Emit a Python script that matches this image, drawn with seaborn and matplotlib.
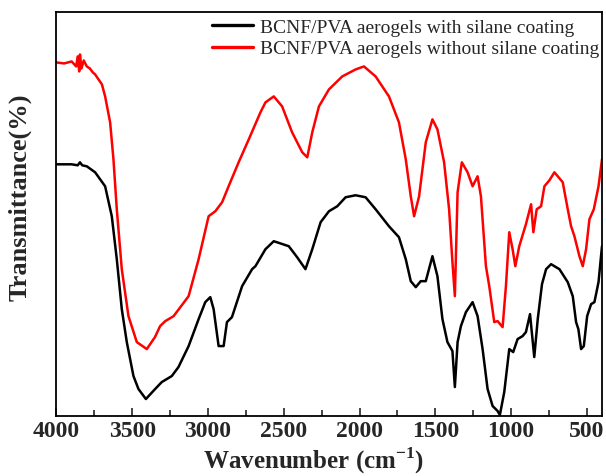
import numpy as np
import pandas as pd
import matplotlib
matplotlib.use("Agg")
import matplotlib.pyplot as plt
import seaborn as sns

# Wavenumber (cm-1) and transmittance (arbitrary units)
red_wn = [4000, 3950, 3900, 3870, 3860, 3850, 3845, 3835, 3820, 3800, 3780, 3760, 3745, 3700,
          3679, 3646, 3624, 3602, 3569, 3525, 3470, 3404, 3350, 3316, 3282, 3227, 3128, 3062,
          2996, 2952, 2907, 2864, 2798, 2731, 2654, 2621, 2566, 2511, 2445, 2378, 2345, 2312,
          2268, 2202, 2114, 2026, 1971, 1894, 1806, 1740, 1695, 1662, 1640, 1607, 1563, 1519,
          1486, 1442, 1409, 1387, 1371, 1353, 1325, 1287, 1254, 1221, 1199, 1166, 1144, 1111,
          1089, 1056, 1034, 1012, 990, 972, 946, 902, 868, 853, 831, 802, 780, 747, 714, 659,
          626, 604, 582, 549, 527, 505, 483, 454, 423, 400]
red_t = [354, 353, 355, 350, 360, 345, 362, 348, 356, 350, 348, 344, 342, 332,
         320, 294, 257, 207, 147, 100, 74, 67, 79, 90, 95, 100, 120, 157,
         200, 205, 214, 230, 254, 277, 304, 314, 320, 310, 284, 264, 259, 284,
         310, 327, 340, 347, 350, 340, 320, 294, 257, 220, 200, 220, 274, 297,
         287, 254, 207, 154, 120, 224, 254, 244, 230, 240, 220, 150, 130, 94,
         95, 89, 130, 184, 167, 150, 170, 192, 212, 184, 207, 210, 230, 236, 244, 234,
         207, 190, 180, 160, 150, 167, 197, 207, 230, 257]

black_wn = [4000, 3900, 3860, 3845, 3830, 3800, 3745, 3679, 3635, 3602, 3569, 3536, 3492, 3459,
            3410, 3349, 3305, 3239, 3195, 3128, 3062, 3018, 2985, 2963, 2930, 2897, 2875, 2842,
            2775, 2709, 2687, 2621, 2566, 2467, 2412, 2357, 2312, 2257, 2202, 2147, 2092, 2026,
            1960, 1894, 1806, 1740, 1695, 1662, 1629, 1596, 1563, 1519, 1486, 1453, 1420, 1387,
            1371, 1353, 1331, 1298, 1254, 1221, 1188, 1155, 1122, 1089, 1074, 1045, 1012, 986,
            957, 924, 902, 875, 847, 824, 796, 769, 736, 681, 626, 593, 571, 556, 538, 520,
            498, 472, 450, 423, 400]
black_t = [252, 252, 251, 254, 251, 250, 244, 230, 200, 157, 107, 74, 40, 27,
           17, 27, 34, 40, 49, 70, 97, 114, 119, 107, 70, 70, 94, 99,
           130, 147, 150, 167, 175, 170, 159, 147, 167, 194, 205, 210, 219, 221,
           219, 207, 190, 179, 157, 135, 129, 135, 135, 160, 140, 97, 74, 65,
           29, 74, 90, 104, 114, 100, 67, 27, 10, 5, 1, 24, 67, 64,
           77, 80, 84, 102, 59, 97, 132, 147, 152, 147, 134, 120, 94, 87, 67, 70,
           100, 112, 114, 134, 170]

labels = ["BCNF/PVA aerogels with silane coating",
          "BCNF/PVA aerogels without silane coating"]
xticks = [4000, 3500, 3000, 2500, 2000, 1500, 1000, 500]

sns.set_style("white")
plt.rcParams['font.family'] = ['Liberation Serif', 'DejaVu Serif']
plt.rcParams['mathtext.fontset'] = 'custom'
plt.rcParams['mathtext.rm'] = 'Liberation Serif'
plt.rcParams['mathtext.bf'] = 'Liberation Serif:bold'

df = pd.concat([
    pd.DataFrame({"wn": black_wn, "t": black_t, "s": labels[0]}),
    pd.DataFrame({"wn": red_wn, "t": red_t, "s": labels[1]}),
])

fig = plt.figure(figsize=(6.06, 4.77), dpi=100)
ax = fig.add_axes([0.0932, 0.1258, 0.9002, 0.8459])
sns.lineplot(data=df, x="wn", y="t", hue="s", palette=["#000000", "#ff0000"],
             sort=False, estimator=None, linewidth=1.8, ax=ax)

ax.set_xlim(4000, 400)
ax.set_ylim(0, 404)
ax.set_xticks(xticks)
ax.set_xticks(np.arange(3750, 400, -500), minor=True)
ax.set_yticks([])
ax.tick_params(axis='x', which='major', direction='in', length=6, width=1.2,
               labelsize=17, pad=3, bottom=True, top=False)
ax.tick_params(axis='x', which='minor', direction='in', length=4, width=1.2,
               bottom=True, top=False)
for lab in ax.get_xticklabels():
    lab.set_fontweight('bold')
for sp in ax.spines.values():
    sp.set_linewidth(1.3)
    sp.set_color('black')

ax.set_xlabel(r'Wavenumber (cm$^{\mathbf{-1}}$)', fontsize=18, fontweight='bold')
ax.xaxis.set_label_coords(0.472, -0.071)
ax.set_ylabel('Transmittance(%)', fontsize=19, fontweight='bold')
ax.yaxis.set_label_coords(-0.045, 0.545)

leg = ax.legend(loc='upper right', bbox_to_anchor=(1.0, 0.993), frameon=False, fontsize=14,
                handlelength=2.1, handletextpad=0.36, borderaxespad=0.0, borderpad=0.15,
                labelspacing=0.2)
for line in leg.get_lines():
    line.set_linewidth(2.4)

fig.savefig("out.png", dpi=100)
